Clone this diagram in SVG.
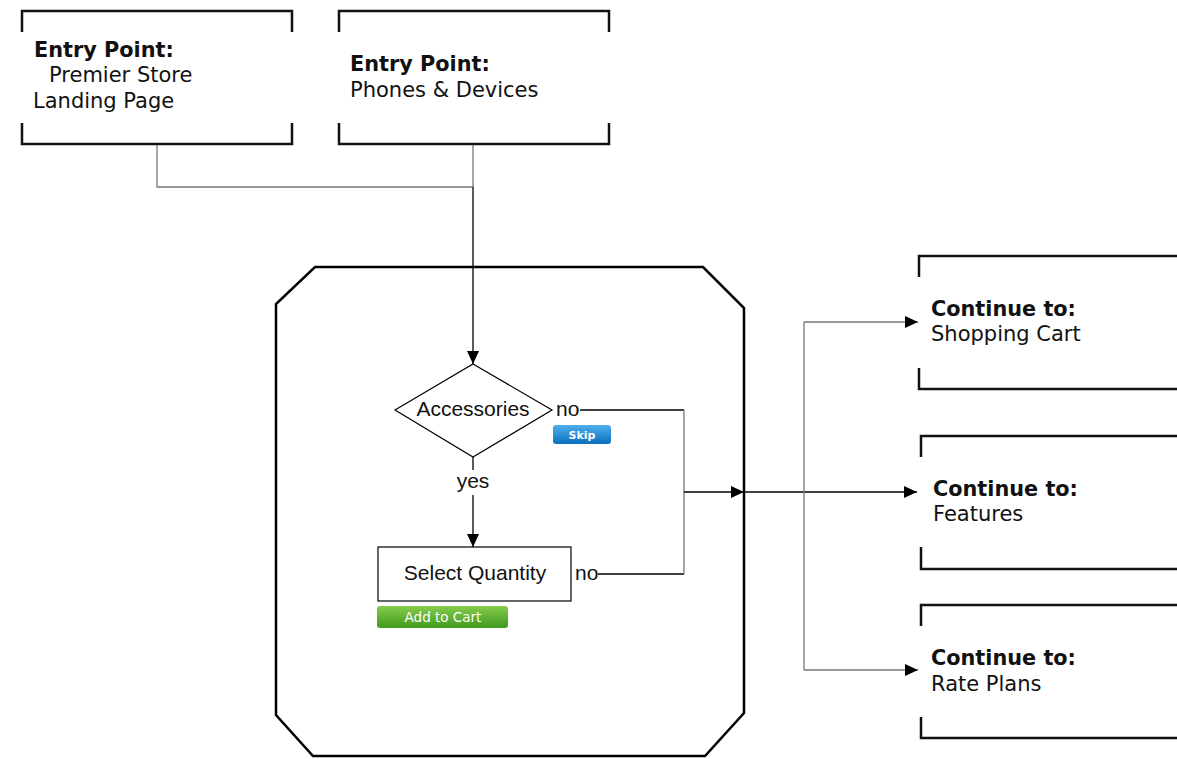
<svg xmlns="http://www.w3.org/2000/svg" width="1177" height="759" viewBox="0 0 1177 759">
<style>
.br{fill:none;stroke:#111;stroke-width:2.5}
.t{font-family:"DejaVu Sans",Verdana,sans-serif;font-size:21px;fill:#111}
.tb{font-family:"DejaVu Sans",Verdana,sans-serif;font-size:20.8px;font-weight:bold;fill:#111}
.a{font-family:"Liberation Sans",Arial,sans-serif;font-size:21px;fill:#111}
.g{fill:none;stroke:#777;stroke-width:1.3}
.k{fill:none;stroke:#000;stroke-width:1.3}
</style>
<defs>
<marker id="ah" markerUnits="userSpaceOnUse" markerWidth="14" markerHeight="14" refX="13" refY="7" orient="auto">
<path d="M0,1 L13,7 L0,13 Z" fill="#000"/>
</marker>
<linearGradient id="blue" x1="0" y1="0" x2="0" y2="1">
<stop offset="0" stop-color="#4fb0ea"/>
<stop offset="1" stop-color="#0b6fbf"/>
</linearGradient>
<linearGradient id="green" x1="0" y1="0" x2="0" y2="1">
<stop offset="0" stop-color="#86cc4c"/>
<stop offset="1" stop-color="#3f9a1e"/>
</linearGradient>
</defs>

<g id="entry-premier">
<path class="br" d="M22,32 V11 H292 V32 M22,123 V144 H292 V123"/>
<text class="tb" x="34" y="57">Entry Point:</text>
<text class="t" x="49" y="82">Premier Store</text>
<text class="t" x="33" y="108">Landing Page</text>
</g>

<g id="entry-phones">
<path class="br" d="M339,32 V11 H609 V32 M339,123 V144 H609 V123"/>
<text class="tb" x="350" y="71">Entry Point:</text>
<text class="t" x="350" y="97">Phones &amp; Devices</text>
</g>

<g id="container">
<polygon points="315,267 703,267 744,308 744,713 705,756 313,756 276,715 276,304" fill="none" stroke="#000" stroke-width="2.5"/>
</g>

<g id="accessories">
<polygon points="473,364 552,410 473,457 395,410" fill="#fff" stroke="#000" stroke-width="1.2"/>
<text class="a" x="473" y="416" text-anchor="middle">Accessories</text>
</g>

<g id="skip">
<rect x="553" y="425" width="58" height="19" rx="3" fill="url(#blue)"/>
<text x="582" y="439" text-anchor="middle" font-family="DejaVu Sans,Verdana,sans-serif" font-size="11" font-weight="bold" fill="#fff">Skip</text>
</g>

<g id="select-quantity">
<rect x="378" y="547" width="193" height="54" fill="#fff" stroke="#000" stroke-width="1.2"/>
<text class="a" x="475" y="580" text-anchor="middle">Select Quantity</text>
</g>

<g id="add-to-cart">
<rect x="377" y="606" width="131" height="22" rx="3" fill="url(#green)"/>
<text x="443" y="622" text-anchor="middle" font-family="DejaVu Sans,Verdana,sans-serif" font-size="13.5" fill="#fff">Add to Cart</text>
</g>

<g id="continue-cart">
<path class="br" d="M919,277 V256 H1180 M919,368 V389 H1180"/>
<text class="tb" x="931" y="316">Continue to:</text>
<text class="t" x="931" y="341">Shopping Cart</text>
</g>

<g id="continue-features">
<path class="br" d="M921,457 V436 H1180 M921,547 V569 H1180"/>
<text class="tb" x="933" y="496">Continue to:</text>
<text class="t" x="933" y="521">Features</text>
</g>

<g id="continue-rates">
<path class="br" d="M921,626 V605 H1180 M921,717 V738 H1180"/>
<text class="tb" x="931" y="665">Continue to:</text>
<text class="t" x="931" y="691">Rate Plans</text>
</g>

<g id="connectors">
<path class="g" d="M157,145 V187 H473"/>
<path class="g" d="M473,145 V187"/>
<path class="k" d="M473,187 V364" marker-end="url(#ah)"/>
<path class="k" d="M473,457 V470"/>
<path class="k" d="M473,495 V547" marker-end="url(#ah)"/>
<text class="a" x="473" y="488" text-anchor="middle">yes</text>
<text class="a" x="556" y="416">no</text>
<path class="k" d="M580,410 H684"/>
<text class="a" x="575" y="580">no</text>
<path class="k" d="M598,574 H684"/>
<path class="g" d="M684,410 V574"/>
<path class="k" d="M684,492 H744" marker-end="url(#ah)"/>
<path class="k" d="M744,492 H917" marker-end="url(#ah)" stroke-width="1.6"/>
<path class="g" d="M804,670 V322"/>
<path class="g" d="M804,322 H918" marker-end="url(#ah)"/>
<path class="g" d="M804,670 H918" marker-end="url(#ah)"/>
</g>
</svg>
